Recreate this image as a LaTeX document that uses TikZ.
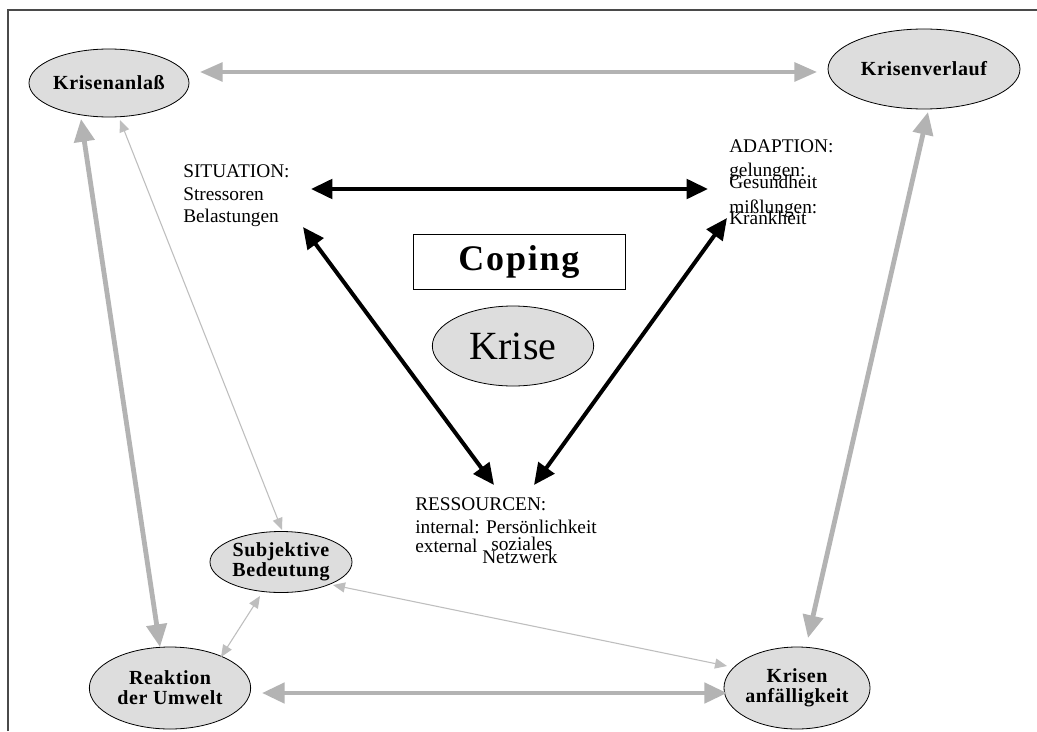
\documentclass[tikz,border=0pt]{standalone}
\usepackage{fontspec}
\setmainfont{Liberation Serif}
\newfontfamily\spacedserif[LetterSpace=3]{Liberation Serif}
\newfontfamily\widespacedserif[LetterSpace=5]{Liberation Serif}
\usetikzlibrary{arrows.meta,shapes.geometric}
\definecolor{ovalfill}{HTML}{DDDDDD}
\definecolor{linkgray}{HTML}{B3B3B3}
\definecolor{thingray}{HTML}{BEBEBE}
\definecolor{framegray}{HTML}{4A4A4A}

\begin{document}
\begin{tikzpicture}[x=0.75pt,y=-0.75pt,
  oval/.style={ellipse, draw=black, line width=0.6pt, fill=ovalfill, inner sep=0pt,
    align=center, font=\spacedserif\fontsize{15}{15}\selectfont\bfseries},
  txt/.style={anchor=base west, inner sep=0pt, font=\fontsize{14.5}{16}\selectfont},
  heavylink/.style={draw=linkgray, line width=3pt,
    {Triangle[length=17pt,width=14pt]}-{Triangle[length=17pt,width=14pt]}},
  widelink/.style={draw=linkgray, line width=3.6pt,
    {Triangle[length=17pt,width=15pt]}-{Triangle[length=17pt,width=15pt]}},
  thinlink/.style={draw=thingray, line width=0.8pt,
    {Triangle[length=9pt,width=7.5pt]}-{Triangle[length=9pt,width=7.5pt]}},
  copinglink/.style={draw=black, line width=3pt,
    {Triangle[length=16pt,width=14.5pt]}-{Triangle[length=16pt,width=14.5pt]}}
]
\useasboundingbox (0,0) rectangle (1037,731);
\fill[white] (0,0) rectangle (1037,731);

% outer frame (open to the right and bottom)
\draw[framegray, line width=1.1pt] (8,731) -- (8,10) -- (1037,10);

% outer ring of ovals
\node[oval, minimum width=120pt, minimum height=51pt] (anlass) at (109,83) {Krisenanlaß};
\node[oval, minimum width=144pt, minimum height=60pt] (verlauf) at (924,69) {Krisenverlauf};
\node[oval, minimum width=106.5pt, minimum height=45.75pt] (bedeutung) at (281,562) {Subjektive\\Bedeutung};
\node[oval, minimum width=121pt, minimum height=61.5pt] (umwelt) at (170,688) {Reaktion\\der Umwelt};
\node[oval, minimum width=106pt, minimum height=61.5pt] (anfall) at (797,688) {Krisen\\anfälligkeit};

% centre: coping box and crisis oval
\node[draw=black, line width=0.7pt, minimum width=159pt, minimum height=41.25pt, inner sep=0pt,
  font=\widespacedserif\fontsize{27}{28}\selectfont\bfseries] (coping) at (519,261.5) {Coping};
\node[ellipse, draw=black, line width=0.6pt, fill=ovalfill, minimum width=121pt, minimum height=60pt,
  inner sep=0pt, font=\fontsize{30}{30}\selectfont] (krise) at (513,346) {Krise};

% text blocks of the coping triangle
\node[txt] (sit1) at (183,177) {SITUATION:};
\node[txt] (sit2) at (183,200) {Stressoren};
\node[txt] (sit3) at (183,222) {Belastungen};

\node[txt] (ada1) at (729,152) {ADAPTION:};
\node[txt] (ada2) at (729,176) {gelungen:};
\node[txt] (ada3) at (729,188) {Gesundheit};
\node[txt] (ada4) at (729,213) {mißlungen:};
\node[txt] (ada5) at (729,224) {Krankheit};

\node[txt] (res1) at (415,510) {RESSOURCEN:};
\node[txt] (res2) at (415,533) {internal: Persönlichkeit};
\node[txt] (res3) at (415,552) {external};
\node[txt] (res4) at (491,550) {soziales};
\node[txt] (res5) at (482,563) {Netzwerk};

% connector end points
\coordinate (anlassE) at (200,72);
\coordinate (verlaufW) at (817,72);
\coordinate (anlassS) at (81,119);
\coordinate (umweltN) at (160,647);
\coordinate (verlaufS) at (928,112);
\coordinate (anfallN) at (808,638);
\coordinate (umweltE) at (262,693);
\coordinate (anfallW) at (727,693);

\coordinate (anlassSE) at (120,120);
\coordinate (bedeutungN) at (282,530);
\coordinate (bedeutungS) at (260,596);
\coordinate (umweltNE) at (221,657);
\coordinate (bedeutungE) at (333,585);
\coordinate (anfallNW) at (727,666);

\coordinate (sitE) at (311,189);
\coordinate (adaW) at (708,189);
\coordinate (sitS) at (303,227);
\coordinate (resNW) at (494,485);
\coordinate (adaS) at (727,218);
\coordinate (resNE) at (534,485);

% outer grey links
\draw[heavylink] (anlassE) -- (verlaufW);
\draw[widelink] (anlassS) -- (umweltN);
\draw[widelink] (verlaufS) -- (anfallN);
\draw[widelink] (umweltE) -- (anfallW);

% thin grey links
\draw[thinlink] (anlassSE) -- (bedeutungN);
\draw[thinlink] (bedeutungS) -- (umweltNE);
\draw[thinlink] (bedeutungE) -- (anfallNW);

% coping triangle
\draw[copinglink] (sitE) -- (adaW);
\draw[copinglink] (sitS) -- (resNW);
\draw[copinglink] (adaS) -- (resNE);
\end{tikzpicture}
\end{document}
